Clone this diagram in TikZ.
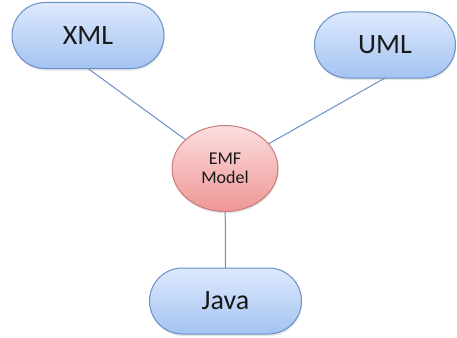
\documentclass[tikz,border=0pt]{standalone}
\usepackage{fontspec}
\setmainfont{Carlito}
\usetikzlibrary{shadows,shapes.geometric,backgrounds}
\definecolor{boxtop}{HTML}{DDE9FC}
\definecolor{boxbot}{HTML}{A4C3F2}
\definecolor{boxline}{HTML}{6A90C4}
\definecolor{emftop}{HTML}{FCDEDE}
\definecolor{emfbot}{HTML}{EF9696}
\definecolor{emfline}{HTML}{C77C7A}
\definecolor{wire}{HTML}{6A90C6}
\tikzset{
  % the pill node only carries the text and the anchors; its outline is drawn by \pillshape
  pill/.style={rectangle, outer sep=0pt, minimum width=152pt, minimum height=66pt,
    font=\fontsize{28}{32}\selectfont, text=black!90},
  pillpaint/.style={draw=boxline, line width=1pt, top color=boxtop, bottom color=boxbot,
    drop shadow={opacity=0.2, shadow xshift=0.6pt, shadow yshift=-2pt}},
  core/.style={draw=emfline, line width=1pt, ellipse, top color=emftop, bottom color=emfbot,
    minimum width=106pt, minimum height=86pt, inner sep=0pt, align=center,
    font=\fontsize{18}{19}\selectfont, text=black!90,
    drop shadow={opacity=0.2, shadow xshift=0.6pt, shadow yshift=-2pt}},
  link/.style={draw=wire, line width=1pt}
}
% capsule outline around a pill node: straight top and bottom, half-circle ends
\newcommand\pillshape[1]{%
  \path[pillpaint] ([xshift=33pt]#1.north west) -- ([xshift=-33pt]#1.north east)
    arc[start angle=90, end angle=-90, radius=33pt]
    -- ([xshift=33pt]#1.south west)
    arc[start angle=270, end angle=90, radius=33pt] -- cycle;}
\begin{document}
\begin{tikzpicture}[x=1pt, y=-1pt]
  \useasboundingbox (0,0) rectangle (457,337);
  \node[pill] (xml) at (88,35.5) {XML};
  \node[pill, minimum width=141pt] (uml) at (385,45) {UML};
  \node[core] (emf) at (225,168.5) {EMF\\Model};
  \node[pill] (java) at (225.5,301) {Java};
  \begin{scope}[on background layer, y=1pt]
    \pillshape{xml}
    \pillshape{uml}
    \pillshape{java}
    \draw[link] (xml.south) -- (emf);
    \draw[link] (uml.south) -- (emf);
    \draw[link] (emf) -- (java.north);
  \end{scope}
\end{tikzpicture}
\end{document}
